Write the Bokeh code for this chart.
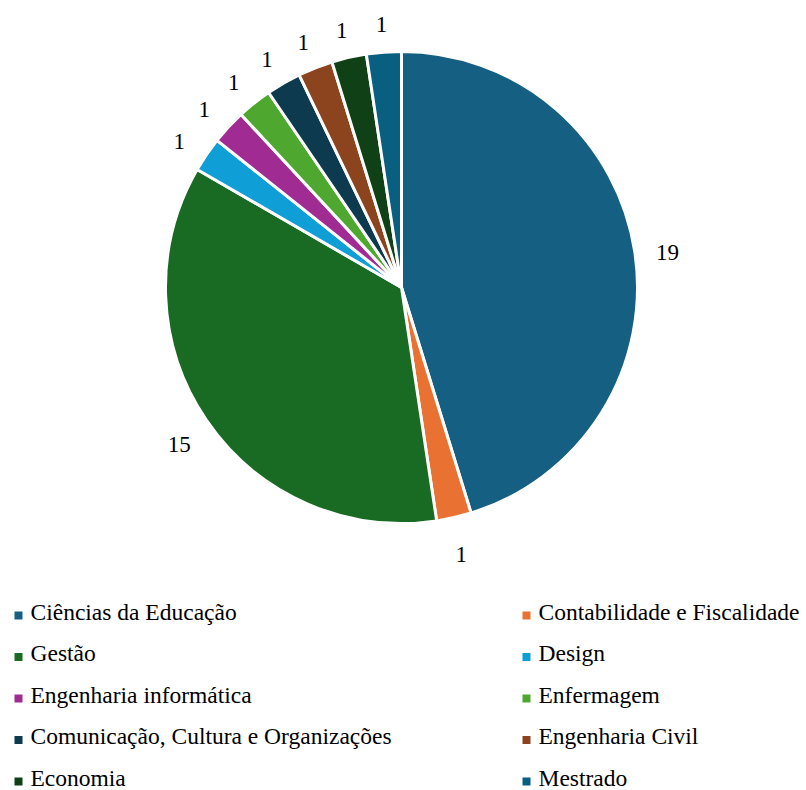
import numpy as np
from bokeh.plotting import figure
from bokeh.models import Range1d
from bokeh.core.properties import value
from bokeh.embed import file_html
from bokeh.resources import INLINE

categories = ["Ciências da Educação", "Contabilidade e Fiscalidade", "Gestão", "Design",
              "Engenharia informática", "Enfermagem", "Comunicação, Cultura e Organizações",
              "Engenharia Civil", "Economia", "Mestrado"]
counts = [19, 1, 15, 1, 1, 1, 1, 1, 1, 1]
colors = ["#156082", "#E97132", "#196B24", "#0F9ED5", "#A02B93", "#4EA72E",
          "#0D3A4E", "#8C441E", "#0F4016", "#095F80"]

W, H = 806, 790
FONT = "Liberation Serif"
NUM_SIZE = 23
LEG_SIZE = 23.5

p = figure(width=W, height=H, output_backend="svg", toolbar_location=None,
           x_range=Range1d(0, W), y_range=Range1d(0, H),
           x_axis_type=None, y_axis_type=None, min_border=0)
p.grid.visible = False
p.outline_line_color = None

total = sum(counts)
cum = [0]
for c in counts:
    cum.append(cum[-1] + c)
start = [float(np.pi / 2 - cum[i] / total * 2 * np.pi) for i in range(len(counts))]
end = [float(np.pi / 2 - cum[i + 1] / total * 2 * np.pi) for i in range(len(counts))]
mid = [(a + b) / 2 for a, b in zip(start, end)]

cx, cy, R = 401.0, float(H - 287), 236.0
LR = 269.0

p.wedge(x=cx, y=cy, radius=R, start_angle=start, end_angle=end, direction="clock",
        fill_color=colors, line_color="white", line_width=3)

# data labels: one glyph each, default anchor (left/bottom), offsets from font metrics
for m, c in zip(mid, counts):
    t = str(c)
    xc = float(cx + LR * np.cos(m))
    yc = float(cy + LR * np.sin(m))
    p.text(x=[xc - 0.25 * NUM_SIZE * len(t)], y=[yc - 0.546 * NUM_SIZE], text=[t],
           text_font=value(FONT), text_font_size=f"{NUM_SIZE}px")

# legend
lx, ly = [], []
for i, cat in enumerate(categories):
    col, row = i % 2, i // 2
    sx = 18 if col == 0 else 526
    sy = 614 + row * 41.5
    lx.append(float(sx))
    ly.append(float(H - sy - 1))
p.rect(x=lx, y=ly, width=8, height=8, fill_color=colors, line_color=None)
for x0, y0, cat in zip(lx, ly, categories):
    p.text(x=[x0 + 12], y=[y0 + 1 - 0.446 * LEG_SIZE], text=[cat],
           text_font=value(FONT), text_font_size=f"{LEG_SIZE}px")

open("out.html", "w").write(file_html(p, INLINE))
